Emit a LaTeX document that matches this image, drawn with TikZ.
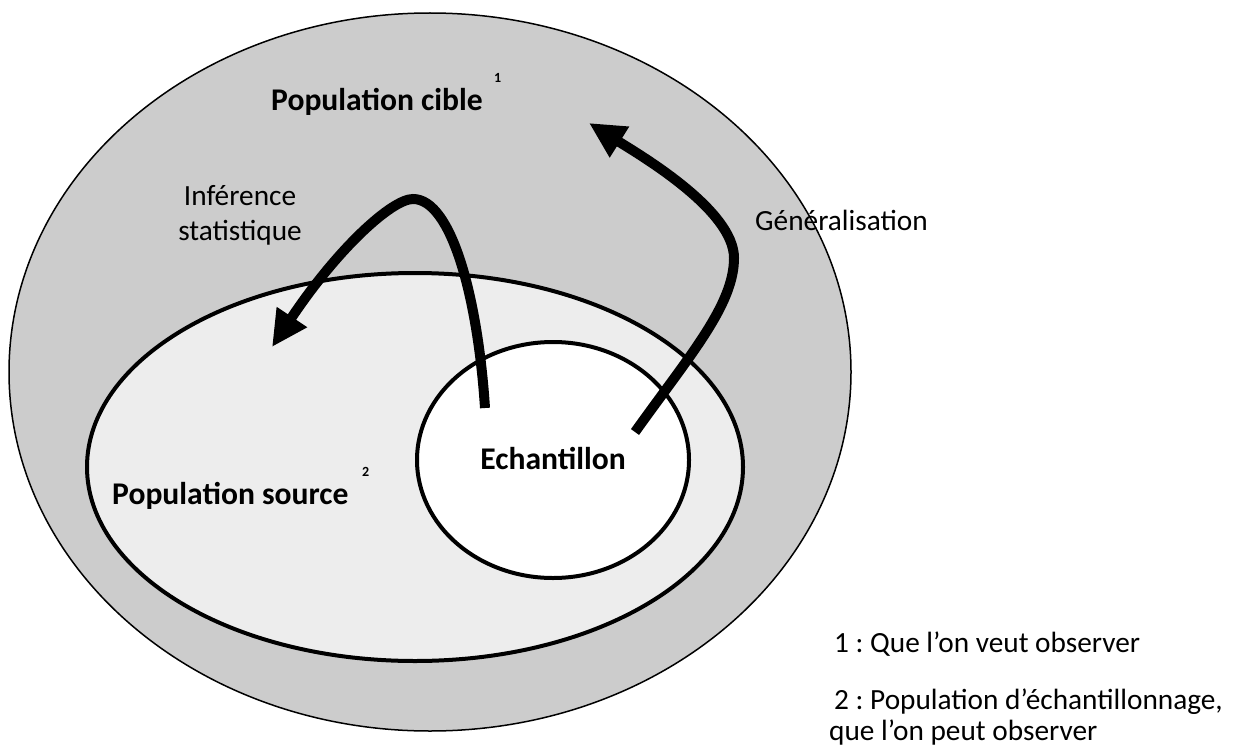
\documentclass[tikz,border=0pt]{standalone}
\usepackage{fontspec}
\setmainfont{Carlito}
\usetikzlibrary{shapes.geometric,arrows.meta}
\definecolor{cibleFill}{HTML}{CCCCCC}
\definecolor{sourceFill}{HTML}{EDEDED}
\frenchspacing
\begin{document}
\begin{tikzpicture}[x=1pt,y=-1pt,
  zone/.style={ellipse, draw=black, inner sep=0pt},
  bigarrow/.style={line width=10pt, -{Triangle[length=36pt,width=34pt]}},
  plaintext/.style={font=\fontsize{29.3}{35}\selectfont, inner sep=0pt},
  boldtext/.style={font=\fontsize{31.6}{37}\selectfont\bfseries, inner sep=0pt},
  supnote/.style={font=\fontsize{14}{16}\selectfont\bfseries, inner sep=0pt}]
\useasboundingbox (0,0) rectangle (1244,749);

% nested populations
\node[zone, fill=cibleFill, line width=1.5pt, minimum width=842pt, minimum height=718pt] (cible) at (430,372) {};
\node[zone, fill=sourceFill, line width=4pt, minimum width=656pt, minimum height=388pt] (source) at (415,467) {};
\node[zone, fill=white, line width=4pt, minimum width=272pt, minimum height=236pt] (echant) at (553,460) {};

% arrow ends
\coordinate (infTail) at (485,408);
\coordinate (infApex) at (413,199);
\coordinate (infTip) at (272,347);
\coordinate (genTail) at (635,432);
\coordinate (genBend) at (734,258);
\coordinate (genTip) at (589,123);

% inference: from the sample back to the source population
\draw[bigarrow] (infTail) .. controls (478,300) and (452,199) .. (infApex)
  .. controls (392,199) and (338,248) .. (infTip);
% generalisation: from the sample to the target population
\draw[bigarrow] (genTail) .. controls (690,355) and (734,305) .. (genBend)
  .. controls (734,210) and (640,155) .. (genTip);

% labels
\node[boldtext, anchor=base west] (cibleLbl) at (271,111) {Population cible};
\node[supnote, anchor=base west] (cibleSup) at (494,83) {1};
\node[boldtext, anchor=base west] (sourceLbl) at (112,504) {Population source};
\node[supnote, anchor=base west] (sourceSup) at (362,476) {2};
\node[boldtext, anchor=base] (echantLbl) at (553,469) {Echantillon};
\node[plaintext, anchor=base] (infL1) at (240,205) {Inférence};
\node[plaintext, anchor=base] (infL2) at (240,240) {statistique};
\node[plaintext, anchor=base west] (genLbl) at (755,230) {Généralisation};

% footnotes
\node[plaintext, anchor=base west] (note1) at (834,652) {1 : Que l’on veut observer};
\node[plaintext, anchor=base west] (note2) at (834,709) {2 : Population d’échantillonnage,};
\node[plaintext, anchor=base west] (note3) at (829,740) {que l’on peut observer};
\end{tikzpicture}
\end{document}
